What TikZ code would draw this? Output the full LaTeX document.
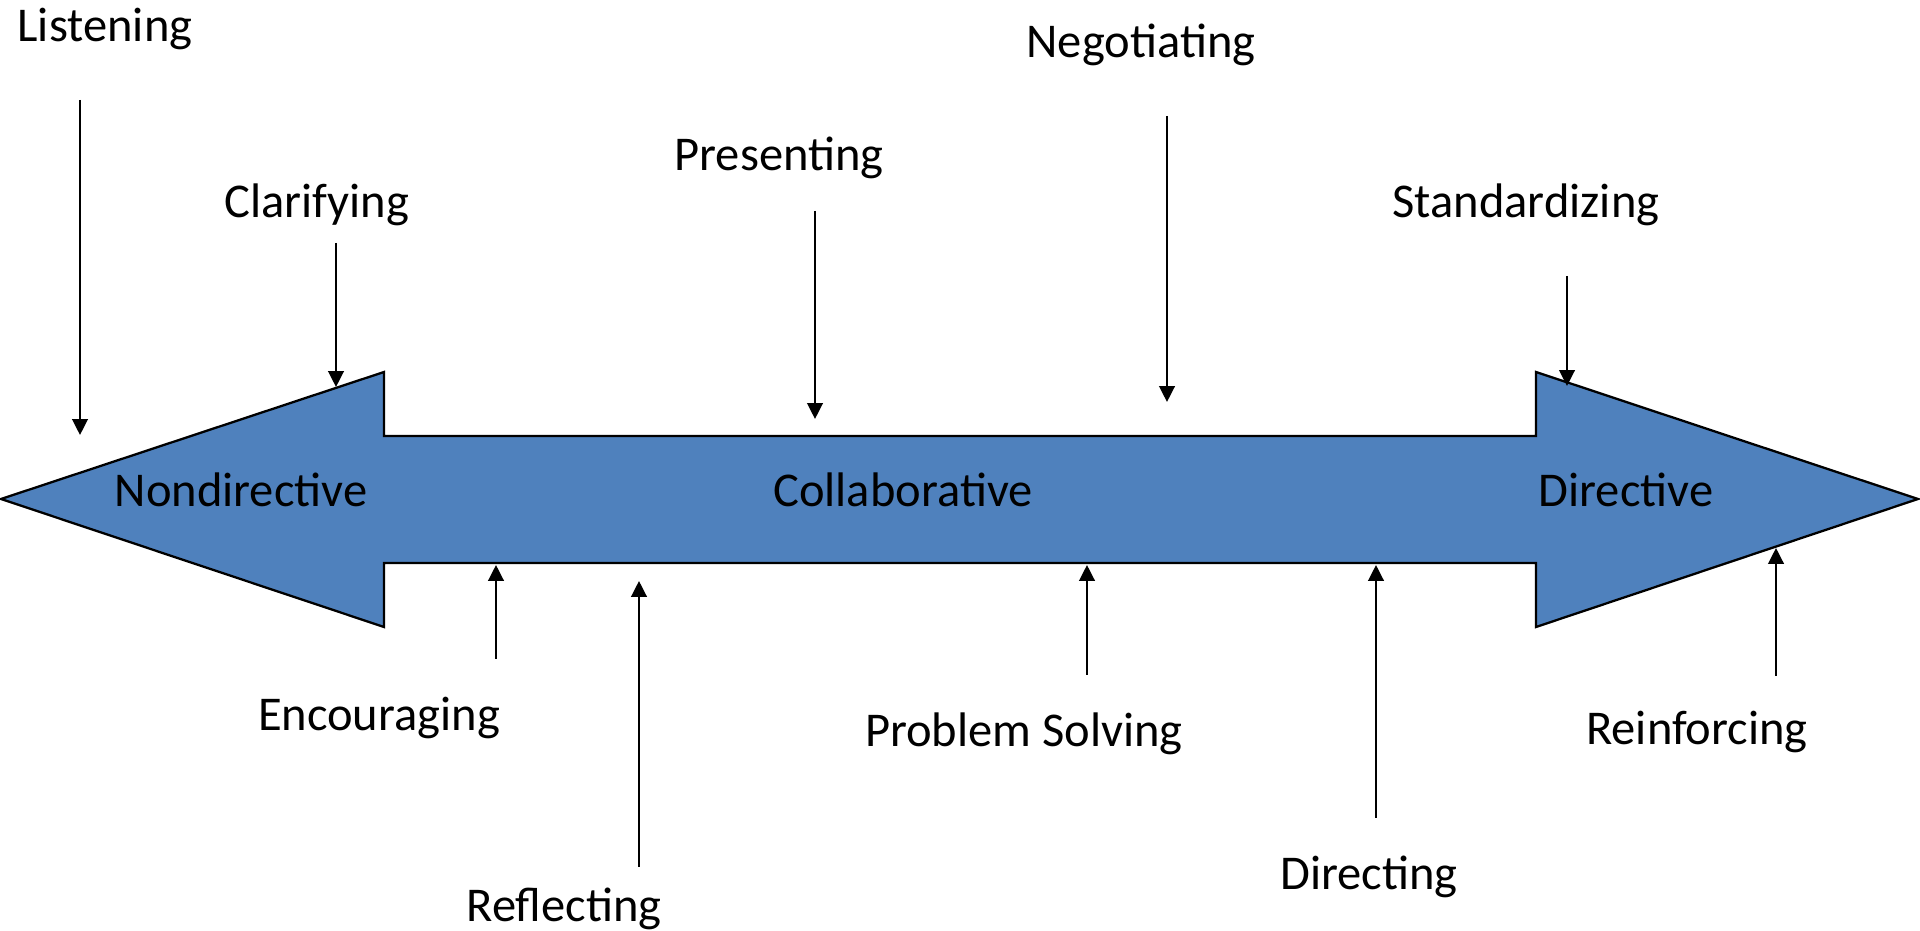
\documentclass[tikz,border=0pt]{standalone}
\usepackage{fontspec}
\setmainfont{Carlito}
\usetikzlibrary{arrows.meta}
\definecolor{shaftblue}{RGB}{79,129,189}
\begin{document}
\begin{tikzpicture}[x=0.01cm, y=-0.01cm,
    label/.style={anchor=base, inner sep=0pt, font=\fontsize{13.8pt}{16pt}\selectfont},
    pointer/.style={line width=0.65pt, -{Triangle[width=4.4pt,length=4.5pt]}}]

      \useasboundingbox (0,0) rectangle (1920,931);

      \filldraw[fill=shaftblue, line width=0.65pt, line join=miter]
        (1,499) -- (384,372) -- (384,436) -- (1536,436) -- (1536,372) -- (1918,499)
        -- (1536,627) -- (1536,563) -- (384,563) -- (384,627) -- cycle;

      \node[label] (nondirective) at (241,507) {Nondirective};
      \node[label] (collaborative) at (903,507) {Collaborative};
      \node[label] (directive) at (1626,507) {Directive};

      \node[label] (listening) at (105,42) {Listening};
      \node[label] (clarifying) at (317,218) {Clarifying};
      \node[label] (presenting) at (779,171) {Presenting};
      \node[label] (negotiating) at (1141,58) {Negotiating};
      \node[label] (standardizing) at (1526,218) {Standardizing};

      \node[label] (encouraging) at (379,731) {Encouraging};
      \node[label] (reflecting) at (564,922) {Reflecting};
      \node[label] (problemsolving) at (1024,747) {Problem Solving};
      \node[label] (directing) at (1369,890) {Directing};
      \node[label] (reinforcing) at (1697,745) {Reinforcing};

      \coordinate (listening-from) at (80,100);
      \coordinate (listening-to) at (80,435);
      \coordinate (clarifying-from) at (336,243);
      \coordinate (clarifying-to) at (336,387);
      \coordinate (presenting-from) at (815,211);
      \coordinate (presenting-to) at (815,419);
      \coordinate (negotiating-from) at (1167,116);
      \coordinate (negotiating-to) at (1167,402);
      \coordinate (standardizing-from) at (1567,276);
      \coordinate (standardizing-to) at (1567,386);

      \coordinate (encouraging-from) at (496,659);
      \coordinate (encouraging-to) at (496,565);
      \coordinate (reflecting-from) at (639,867);
      \coordinate (reflecting-to) at (639,581);
      \coordinate (problemsolving-from) at (1087,675);
      \coordinate (problemsolving-to) at (1087,565);
      \coordinate (directing-from) at (1376,818);
      \coordinate (directing-to) at (1376,565);
      \coordinate (reinforcing-from) at (1776,676);
      \coordinate (reinforcing-to) at (1776,548);

      \draw[pointer] (listening-from) -- (listening-to);
      \draw[pointer] (clarifying-from) -- (clarifying-to);
      \draw[pointer] (presenting-from) -- (presenting-to);
      \draw[pointer] (negotiating-from) -- (negotiating-to);
      \draw[pointer] (standardizing-from) -- (standardizing-to);
      \draw[pointer] (encouraging-from) -- (encouraging-to);
      \draw[pointer] (reflecting-from) -- (reflecting-to);
      \draw[pointer] (problemsolving-from) -- (problemsolving-to);
      \draw[pointer] (directing-from) -- (directing-to);
      \draw[pointer] (reinforcing-from) -- (reinforcing-to);

    \end{tikzpicture}
\end{document}
